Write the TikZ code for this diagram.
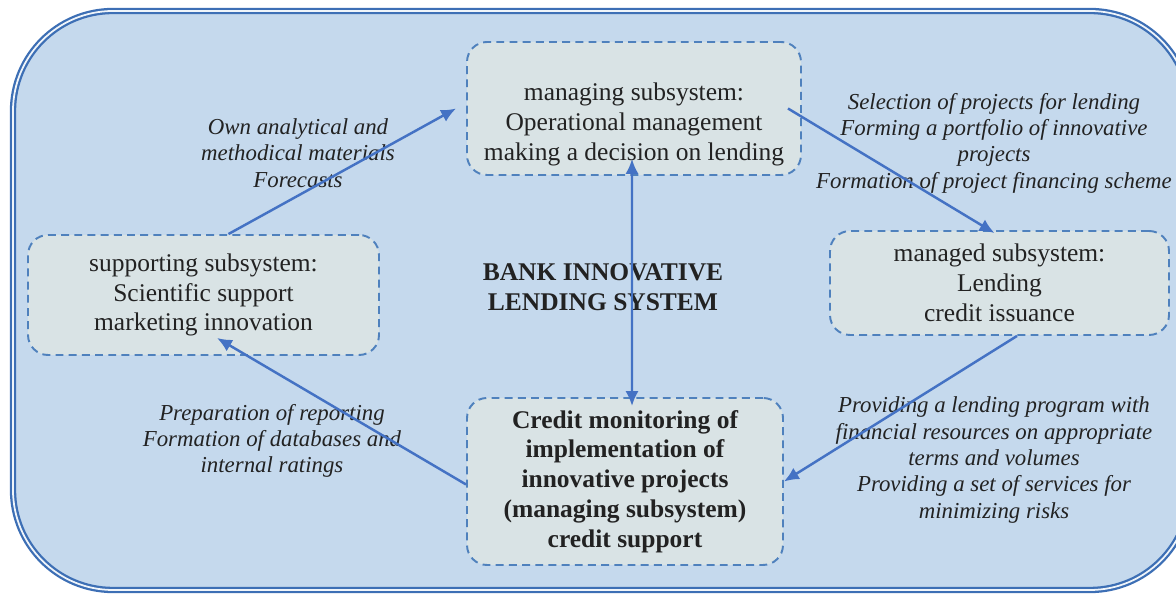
\documentclass[tikz,border=0pt]{standalone}
\usepackage{fontspec}
\setmainfont{Liberation Serif}
\usetikzlibrary{arrows.meta}
\definecolor{framefill}{RGB}{197,217,237}
\definecolor{boxfill}{RGB}{217,227,229}
\definecolor{dashblue}{RGB}{79,129,189}
\definecolor{arrowblue}{RGB}{68,114,196}
\definecolor{frameblue}{RGB}{61,111,181}
\definecolor{textgray}{RGB}{34,34,34}

\begin{document}
\begin{tikzpicture}[
        subsys/.style={draw=dashblue, fill=boxfill, line width=1.1pt, dash pattern=on 4.5pt off 3pt,
            rounded corners=0.4cm, align=center, text=textgray, font=\fontsize{14.5}{17}\selectfont},
        note/.style={align=center, text=textgray, font=\fontsize{13}{15}\selectfont\itshape},
        flow/.style={draw=arrowblue, line width=1.4pt, >={Latex[length=8.5pt,width=7.5pt]}}
    ]
                        \useasboundingbox (0,0) rectangle (23.52,11.9);
                        \draw [fill=framefill, draw=frameblue, line width=1.3pt, double=white!75!framefill, double distance=1pt, rounded corners=2cm] (0.26,0.1) rectangle (23.8,11.68);
                        \node [subsys, minimum width=6.68cm, minimum height=2.66cm, text height=62pt, text depth=3pt] (managing) at (12.68,9.73) {managing subsystem:\\Operational management\\making a decision on lending};
                        \node [subsys, minimum width=7.02cm, minimum height=2.4cm] (supporting) at (4.07,6.0) {supporting subsystem:\\Scientific support\\marketing innovation};
                        \node [subsys, minimum width=6.78cm, minimum height=2.08cm] (managed) at (19.99,6.24) {managed subsystem:\\Lending\\credit issuance};
                        \node [subsys, minimum width=6.32cm, minimum height=3.34cm, font=\fontsize{14.5}{17}\selectfont\bfseries] (monitoring) at (12.5,2.27) {Credit monitoring of\\implementation of\\innovative projects\\(managing subsystem)\\credit support};
                        \node [align=center, text=textgray, font=\fontsize{14.5}{17}\selectfont\bfseries] (title) at (12.06,6.16) {BANK INNOVATIVE\\LENDING SYSTEM};
                        \node [note] (ownnote) at (5.96,8.84) {Own analytical and\\methodical materials\\Forecasts};
                        \node [note] (selectnote) at (19.88,9.04) {Selection of projects for lending\\Forming a portfolio of innovative\\projects\\Formation of project financing scheme};
                        \node [note] (reportnote) at (5.44,3.08) {Preparation of reporting\\Formation of databases and\\internal ratings};
                        \node [note] (providenote) at (19.88,2.7) {Providing a lending program with\\financial resources on appropriate\\terms and volumes\\Providing a set of services for\\minimizing risks};
                        \draw [flow, ->] ([xshift=0.5cm]supporting.north) -- ([xshift=-0.2cm]managing.west);
                        \draw [flow, ->] ([xshift=-0.28cm]managing.east) -- ([xshift=-0.1cm,yshift=-0.06cm]managed.north);
                        \draw [flow, ->] ([xshift=0.35cm]managed.south) -- (monitoring.east);
                        \draw [flow, ->] ([yshift=-0.06cm]monitoring.west) -- ([xshift=0.27cm,yshift=0.36cm]supporting.south);
                        \draw [flow, <->] ([xshift=-0.04cm,yshift=0.34cm]managing.south) -- ([xshift=0.14cm,yshift=-0.18cm]monitoring.north);
                    \end{tikzpicture}
\end{document}
